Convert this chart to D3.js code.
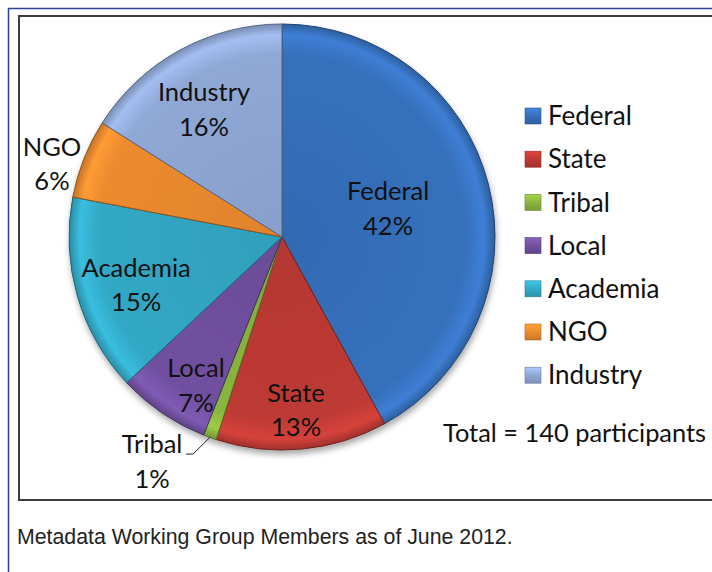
<!DOCTYPE html>
<html>
<head>
<meta charset="utf-8">
<script src="https://cdn.jsdelivr.net/npm/d3@7/dist/d3.min.js"></script>
<style>
  html, body { margin: 0; padding: 0; background: #ffffff; }
  svg { display: block; }
</style>
</head>
<body>
<svg id="chart" width="712" height="572"></svg>
<script>
// ---- Data ----
const categories = ["Federal", "State", "Tribal", "Local", "Academia", "NGO", "Industry"];
const percentages = [42, 13, 1, 7, 15, 6, 16];
const sliceColors = ["#3670bc", "#be3a34", "#8ab43f", "#7150a0", "#32a8c5", "#ec8a2f", "#90a8d6"];
const totalLabel = "Total = 140 participants";
const captionText = "Metadata Working Group Members as of June 2012.";

// label placement relative to pie centre, in units of radius
const labelOffsets = [
  [0.498, -0.136], [0.066, 0.812], [-0.610, 1.052], [-0.404, 0.695],
  [-0.685, 0.225], [-1.080, -0.343], [-0.366, -0.601]
];

const svg = d3.select("#chart");
const W = 712, H = 572;
const labelFont = "Lato, 'Open Sans', sans-serif";

// frames
svg.append("rect").attr("x", 8.5).attr("y", 8.5).attr("width", W + 20).attr("height", H + 20)
  .attr("fill", "none").attr("stroke", "#2c3f9c").attr("stroke-width", 1.5);
svg.append("rect").attr("x", 19).attr("y", 16).attr("width", W + 20).attr("height", 484)
  .attr("fill", "#ffffff").attr("stroke", "#3c3c3c").attr("stroke-width", 2);

const cx = 282, cy = 237, R = 213;
const defs = svg.append("defs");

const shadow = defs.append("filter").attr("id", "shadow")
  .attr("x", "-20%").attr("y", "-20%").attr("width", "140%").attr("height", "140%");
shadow.append("feDropShadow").attr("dx", 1).attr("dy", 4).attr("stdDeviation", 3)
  .attr("flood-color", "#000").attr("flood-opacity", 0.35);

sliceColors.forEach((c, i) => {
  const base = d3.color(c);
  const g = defs.append("radialGradient").attr("id", "grad" + i)
    .attr("gradientUnits", "userSpaceOnUse").attr("cx", 0).attr("cy", 0).attr("r", R);
  g.append("stop").attr("offset", 0).attr("stop-color", base.darker(0.15));
  g.append("stop").attr("offset", 0.86).attr("stop-color", base);
  g.append("stop").attr("offset", 0.95).attr("stop-color", base.brighter(0.35));
  g.append("stop").attr("offset", 1).attr("stop-color", base.darker(0.5));
  const lg = defs.append("linearGradient").attr("id", "leg" + i)
    .attr("x1", 0).attr("y1", 0).attr("x2", 0).attr("y2", 1);
  lg.append("stop").attr("offset", 0).attr("stop-color", base.brighter(0.5));
  lg.append("stop").attr("offset", 0.5).attr("stop-color", base);
  lg.append("stop").attr("offset", 1).attr("stop-color", base.darker(0.4));
});

const pieData = d3.pie().sort(null).value(d => d)(percentages);
const arc = d3.arc().innerRadius(0).outerRadius(R);

const gPie = svg.append("g").attr("transform", `translate(${cx},${cy})`);
gPie.append("g").attr("filter", "url(#shadow)")
  .selectAll("path").data(pieData).join("path")
  .attr("d", arc)
  .attr("fill", (d, i) => `url(#grad${i})`)
  .attr("stroke", (d, i) => d3.color(sliceColors[i]).darker(1.4))
  .attr("stroke-width", 1)
  .attr("stroke-linejoin", "round");

// labels
const fs = 26;
pieData.forEach((d, i) => {
  const [ox, oy] = labelOffsets[i];
  const t = gPie.append("text")
    .attr("x", ox * R).attr("y", oy * R)
    .attr("text-anchor", "middle")
    .attr("font-family", labelFont).attr("font-size", 25.5).attr("fill", "#111");
  t.append("tspan").attr("x", ox * R).attr("dy", "-0.33em").text(categories[i]);
  t.append("tspan").attr("x", ox * R).attr("dy", "1.37em").text(percentages[i] + "%");
});

// leader line for Tribal (outside label)
const tribal = pieData[2];
const midA = (tribal.startAngle + tribal.endAngle) / 2;
const px = Math.sin(midA) * R, py = -Math.cos(midA) * R;
const lx = labelOffsets[2][0] * R, ly = labelOffsets[2][1] * R;
gPie.append("polyline")
  .attr("points", [[px, py], [lx + 41, ly - 7], [lx + 34, ly - 7]].map(p => p.join(",")).join(" "))
  .attr("fill", "none").attr("stroke", "#222").attr("stroke-width", 1);

// legend
const legX = 525, legY0 = 116, legStep = 43.2;
const leg = svg.append("g");
categories.forEach((c, i) => {
  const y = legY0 + i * legStep;
  leg.append("rect").attr("x", legX).attr("y", y - 8).attr("width", 16).attr("height", 16)
    .attr("fill", `url(#leg${i})`).attr("stroke", d3.color(sliceColors[i]).darker(0.8)).attr("stroke-width", 0.6);
  leg.append("text").attr("x", legX + 23).attr("y", y).attr("dy", "0.35em")
    .attr("font-family", labelFont).attr("font-size", fs).attr("fill", "#111").text(c);
});

svg.append("text").attr("x", 443).attr("y", 433).attr("dy", "0.35em")
  .attr("font-family", labelFont).attr("font-size", 25.4).attr("fill", "#111").text(totalLabel);

svg.append("text").attr("x", 17).attr("y", 537).attr("dy", "0.35em")
  .attr("font-family", "'Liberation Sans', Arial, sans-serif").attr("font-size", 21.3)
  .attr("fill", "#222").text(captionText);
</script>
</body>
</html>
